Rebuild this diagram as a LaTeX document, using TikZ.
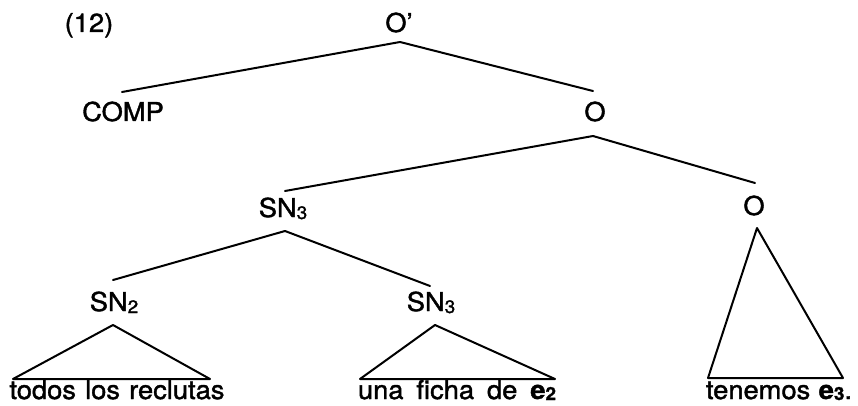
\documentclass[tikz,border=0pt]{standalone}
\usepackage{fontspec}
\setmainfont{TeX Gyre Heros}[FakeStretch=1.05, FakeBold=1.5]
\usetikzlibrary{calc}
\newcommand{\sbx}[1]{\raisebox{-2pt}{\fontsize{18}{18}\selectfont #1}}
\newcommand{\sbl}[1]{\raisebox{-1pt}{\fontsize{18}{18}\selectfont #1}}
\tikzset{
  lbl/.style={anchor=base, inner sep=0pt, font=\fontsize{26}{26}\selectfont},
  edge/.style={line width=2pt, line cap=round, line join=round},
}
\begin{document}
\begin{tikzpicture}[x=1pt,y=-1pt]
\useasboundingbox (0,0) rectangle (858,406);
% labels
\node[lbl] (num) at (89,32) {(12)};
\node[lbl] (Op) at (399,32) {O'};
\node[lbl] (COMP) at (123,121) {COMP};
\node[lbl] (O1) at (595,121) {O};
\node[lbl] (SNa) at (283,217) {SN\sbx{3}};
\node[lbl] (O2) at (754,215) {O};
\node[lbl] (SN2) at (114,311) {SN\sbx{2}};
\node[lbl] (SNb) at (431,311) {SN\sbx{3}};
\node[lbl] (t1) at (117,399) {\makebox[215pt][s]{todos los reclutas}};
\node[lbl] (t2) at (457,399) {\makebox[198pt][s]{una ficha de \textbf{e}\sbl{\textbf{2}}}};
\node[lbl] (t3) at (779,399) {\makebox[146pt][s]{tenemos \textbf{e}\sbl{\textbf{3}}.}};
% branch points
\coordinate (Opb) at ($(Op.base)+(1,10)$);
\coordinate (COMPt) at ($(COMP.base)+(-1,-29)$);
\coordinate (O1t) at ($(O1.base)+(-2,-30)$);
\coordinate (O1b) at ($(O1.base)+(-2,15)$);
\coordinate (SNat) at ($(SNa.base)+(2,-26)$);
\coordinate (SNab) at ($(SNa.base)+(2,14)$);
\coordinate (O2t) at ($(O2.base)+(1,-32)$);
\coordinate (O2b) at ($(O2.base)+(3,13)$);
\coordinate (SN2t) at ($(SN2.base)+(-1,-31)$);
\coordinate (SN2b) at ($(SN2.base)+(-1,14)$);
\coordinate (SNbt) at ($(SNb.base)+(-1,-25)$);
\coordinate (SNbb) at ($(SNb.base)+(4,14)$);
% triangle base corners
\coordinate (t1l) at (13,379);
\coordinate (t1r) at (210,379);
\coordinate (t2l) at (360,379);
\coordinate (t2r) at (555,379);
\coordinate (t3l) at (708,378);
\coordinate (t3r) at (843,378);
% edges
\draw[edge] (COMPt) -- (Opb) -- (O1t);
\draw[edge] (SNat) -- (O1b) -- (O2t);
\draw[edge] (SN2t) -- (SNab) -- (SNbt);
\draw[edge] (SN2b) -- (t1l) -- (t1r) -- cycle;
\draw[edge] (SNbb) -- (t2l) -- (t2r) -- cycle;
\draw[edge] (O2b) -- (t3l) -- (t3r) -- cycle;
\end{tikzpicture}
\end{document}
